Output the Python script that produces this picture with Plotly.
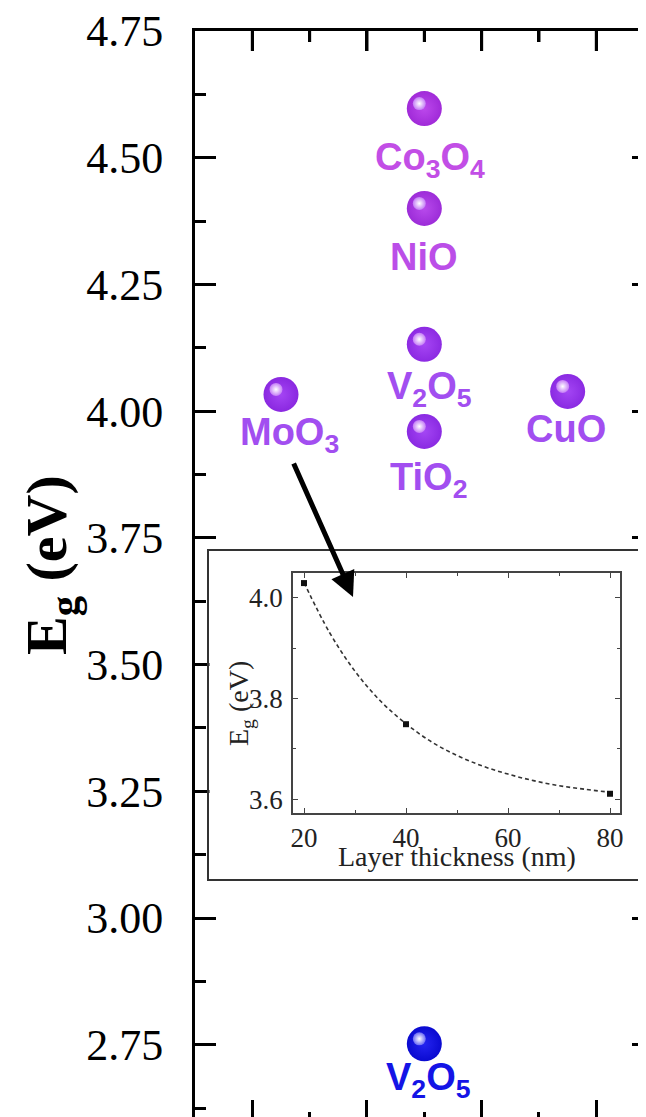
import plotly.graph_objects as go

# ---------------- data ----------------
oxide_labels = ["MoO<sub>3</sub>", "Co<sub>3</sub>O<sub>4</sub>", "NiO",
                "V<sub>2</sub>O<sub>5</sub>", "TiO<sub>2</sub>", "CuO"]
oxide_x = [1.5, 4.0, 4.0, 4.0, 4.0, 6.5]
oxide_eg = [4.033, 4.597, 4.400, 4.132, 3.960, 4.039]

blue_labels = ["V<sub>2</sub>O<sub>5</sub>"]
blue_x = [4.0]
blue_eg = [2.752]

thickness_nm = [20, 40, 80]
inset_eg = [4.029, 3.749, 3.611]

fit_thickness = [20, 25, 30, 35, 40, 45, 50, 55, 60, 65, 70, 75, 80]
fit_eg = [4.030, 3.931, 3.854, 3.795, 3.750, 3.714, 3.687, 3.666,
          3.650, 3.637, 3.627, 3.620, 3.614]

y_ticks = [2.75, 3.00, 3.25, 3.50, 3.75, 4.00, 4.25, 4.50, 4.75]
x_major = [1, 3, 5, 7]
x_minor = [2, 4, 6]

# ---------------- geometry helpers (reference pixel -> figure) ----------------
OFF = 8                      # page body margin
WIN_W, WIN_H = 646, 1117
W, H = WIN_W - OFF, WIN_H - OFF
L_REF, T_REF = 195, 31       # plot-area left / top in window pixels
L, T = L_REF - OFF, T_REF - OFF
XS, YS = 57.33, 506.9        # pixels per x unit / per eV
XR = [0.0, (WIN_W - L_REF) / XS]
YR = [4.75 - (WIN_H - T_REF) / YS, 4.75]
PH = WIN_H - T_REF           # plot-area height in pixels


def px(x):
    return (x - L_REF) / (WIN_W - L_REF)


def py(y):
    return (WIN_H - y) / (WIN_H - T_REF)


oxide_colors = ["#a444f4", "#bc48ec", "#b84aec", "#a646f4", "#a446f4", "#a446f4"]
oxide_edge = ["#8a28e0", "#a02ad8", "#9c2cd8", "#8c2ae2", "#8a2ae2", "#8a2ae2"]
label_colors = ["#a24ef0", "#c24ee6", "#bb4ee8", "#a24ef0", "#a24ef0", "#a24ef0"]

fig = go.Figure()

# empty traces so the twin frame axes (bottom / right) are drawn
fig.add_trace(go.Scatter(x=[None], y=[None], xaxis="x2", yaxis="y", mode="markers",
                         hoverinfo="skip", showlegend=False))
fig.add_trace(go.Scatter(x=[None], y=[None], xaxis="x", yaxis="y2", mode="markers",
                         hoverinfo="skip", showlegend=False))

# spheres
fig.add_trace(go.Scatter(
    x=oxide_x, y=oxide_eg, mode="markers", xaxis="x", yaxis="y",
    marker=dict(size=35, color=oxide_edge, line=dict(width=0),
                gradient=dict(type="radial", color=oxide_colors)),
    hoverinfo="skip", showlegend=False))
fig.add_trace(go.Scatter(
    x=blue_x, y=blue_eg, mode="markers", xaxis="x", yaxis="y",
    marker=dict(size=35, color="#0a0ad0", line=dict(width=0),
                gradient=dict(type="radial", color="#2424f0")),
    hoverinfo="skip", showlegend=False))
# highlights (drawn on pixel-shifted twin axes)
fig.add_trace(go.Scatter(
    x=oxide_x + blue_x, y=oxide_eg + blue_eg, mode="markers", xaxis="x3", yaxis="y3",
    marker=dict(size=13, color=["#c47cf6"] * 6 + ["#6a6af4"], line=dict(width=0),
                gradient=dict(type="radial", color="#ffffff")),
    hoverinfo="skip", showlegend=False))

# inset traces
fig.add_trace(go.Scatter(
    x=fit_thickness, y=fit_eg, mode="lines", xaxis="x4", yaxis="y4",
    line=dict(color="#333333", width=1.6, dash="4px,3px", shape="spline"),
    hoverinfo="skip", showlegend=False))
fig.add_trace(go.Scatter(
    x=thickness_nm, y=inset_eg, mode="markers", xaxis="x4", yaxis="y4",
    marker=dict(symbol="square", size=6, color="#111111"),
    hoverinfo="skip", showlegend=False))

annotations = []
# oxide labels
label_dy = [37, 47, 45, 41, 45, 34]
label_dx = [8, 6, 0, 5, 4, -2]
for lab, xv, yv, c, dy, dx in zip(oxide_labels, oxide_x, oxide_eg, label_colors, label_dy, label_dx):
    annotations.append(dict(x=xv, y=yv, xref="x", yref="y", text=lab, showarrow=False,
                            xshift=dx, yshift=-dy - 4, xanchor="center", yanchor="middle",
                            font=dict(family="Liberation Sans", size=38, color=c, weight="bold")))
for lab, xv, yv in zip(blue_labels, blue_x, blue_eg):
    annotations.append(dict(x=xv, y=yv, xref="x", yref="y", text=lab, showarrow=False,
                            xshift=4, yshift=-32 - 4, xanchor="center", yanchor="middle",
                            font=dict(family="Liberation Sans", size=38, color="#1414e6", weight="bold")))

# main y title
annotations.append(dict(x=px(50), y=py(565), xref="paper", yref="paper",
                        xanchor="center", yanchor="middle",
                        text="E<sub>g</sub> (eV)", textangle=-90, showarrow=False,
                        font=dict(family="Liberation Serif", size=58, color="black", weight="bold")))
# inset titles
annotations.append(dict(x=px(240), y=py(704), xref="paper", yref="paper",
                        xanchor="center", yanchor="middle",
                        text="E<sub>g</sub> (eV)", textangle=-90, showarrow=False,
                        font=dict(family="Liberation Serif", size=28, color="#222222")))
annotations.append(dict(x=px(457), y=py(856), xref="paper", yref="paper",
                        xanchor="center", yanchor="middle",
                        text="Layer thickness (nm)", showarrow=False,
                        font=dict(family="Liberation Serif", size=28, color="#222222")))
# arrow from MoO3 to inset
annotations.append(dict(x=(353 - L_REF) / XS, y=4.75 - (597 - T_REF) / YS, xref="x", yref="y",
                        ax=(293 - L_REF) / XS, ay=4.75 - (462 - T_REF) / YS, axref="x", ayref="y",
                        text="", showarrow=True, arrowhead=2, arrowsize=1.0, arrowwidth=5,
                        arrowcolor="black", standoff=0, startstandoff=0))

shapes = [
    # hide main ticks inside the inset box
    dict(type="rect", xref="paper", yref="paper", x0=px(209.5), x1=px(228), y0=py(879), y1=py(551),
         fillcolor="white", line=dict(width=0), layer="above"),
    dict(type="rect", xref="paper", yref="paper", x0=px(626), x1=px(641.8), y0=py(879), y1=py(551),
         fillcolor="white", line=dict(width=0), layer="above"),
    # inset frame
    dict(type="rect", xref="paper", yref="paper", x0=px(208), x1=px(643), y0=py(880), y1=py(550),
         fillcolor="rgba(0,0,0,0)", line=dict(width=2, color="#333333"), layer="above"),
]
# top-frame tick marks (placed on the x scale, pointing down from the top spine)
for tv, tl in [(v, 20) for v in x_major] + [(v, 11) for v in x_minor]:
    shapes.append(dict(type="line", xref="x", yref="y", x0=tv, x1=tv,
                       y0=YR[1], y1=YR[1] - tl / YS, line=dict(color="black", width=3),
                       layer="above"))

tick_font = dict(family="Liberation Serif", size=44, color="black")
inset_font = dict(family="Liberation Serif", size=27, color="#222222")

fig.update_layout(
    width=W, height=H,
    margin=dict(l=L, r=0, t=T, b=0, pad=0, autoexpand=False),
    paper_bgcolor="white", plot_bgcolor="white",
    showlegend=False,
    annotations=annotations, shapes=shapes,
    # top frame line + ticks (main x axis)
    xaxis=dict(type="linear", range=XR, domain=[0, 1], anchor="y", side="top",
               showgrid=False, zeroline=False, automargin=False,
               showline=True, linewidth=3, linecolor="black", showticklabels=False,
               ticks="inside", tickvals=x_major, ticklen=20, tickwidth=3, tickcolor="black",
               minor=dict(tickvals=x_minor, ticks="inside", ticklen=11, tickwidth=3, tickcolor="black")),
    # bottom ticks (frame line falls just below the window)
    xaxis2=dict(type="linear", range=XR, overlaying="x", side="bottom", anchor="y",
                showgrid=False, zeroline=False, automargin=False,
                showline=False, showticklabels=False,
                ticks="inside", tickvals=x_major, ticklen=17, tickwidth=3, tickcolor="black",
                minor=dict(tickvals=x_minor, ticks="inside", ticklen=5, tickwidth=3, tickcolor="black")),
    yaxis=dict(type="linear", range=YR, domain=[0, 1], anchor="x", showgrid=False, zeroline=False,
               automargin=False,
               showline=True, linewidth=3, linecolor="black",
               ticks="inside", tickvals=y_ticks, ticktext=[f"{v:.2f}" for v in y_ticks],
               ticklen=21, tickwidth=3, tickcolor="black",
               tickfont=tick_font, ticklabelstandoff=20, ticklabeloverflow="allow",
               minor=dict(dtick=0.125, tick0=2.75, ticks="inside", ticklen=11, tickwidth=3, tickcolor="black")),
    yaxis2=dict(type="linear", range=YR, overlaying="y", side="right", anchor="x",
                showgrid=False, zeroline=False, automargin=False,
                showline=False, showticklabels=False,
                ticks="inside", tickvals=y_ticks, ticklen=14, tickwidth=3, tickcolor="black",
                minor=dict(dtick=0.125, tick0=2.75, ticks="inside", ticklen=4, tickwidth=3, tickcolor="black")),
    xaxis3=dict(type="linear", range=[XR[0] + 5 / XS, XR[1] + 5 / XS], overlaying="x", anchor="y3",
                visible=False, automargin=False),
    yaxis3=dict(type="linear", range=[YR[0] - 5 / YS, YR[1] - 5 / YS], overlaying="y", anchor="x3",
                visible=False, automargin=False),
    xaxis4=dict(type="linear", domain=[px(293), px(620)], anchor="y4", automargin=False,
                range=[20 - 11 / 5.1, 80 + 10 / 5.1], showgrid=False, zeroline=False,
                showline=True, linewidth=1.5, linecolor="#444444", mirror="ticks",
                ticks="inside", tickvals=[20, 40, 60, 80], ticklen=5, tickwidth=1.2, tickcolor="#444444",
                tickfont=inset_font, ticklabelstandoff=0,
                minor=dict(tickvals=[30, 50, 70], ticks="inside", ticklen=3, tickwidth=1.2, tickcolor="#444444")),
    yaxis4=dict(type="linear", domain=[py(813), py(573)], anchor="x4", automargin=False,
                range=[3.6 - 13.7 / 504, 4.0 + 24.7 / 504], showgrid=False, zeroline=False,
                showline=True, linewidth=1.5, linecolor="#444444", mirror="ticks",
                ticks="inside", tickvals=[3.6, 3.8, 4.0], ticktext=["3.6", "3.8", "4.0"],
                ticklen=5, tickwidth=1.2, tickcolor="#444444",
                tickfont=inset_font, ticklabelstandoff=3,
                minor=dict(tickvals=[3.7, 3.9], ticks="inside", ticklen=3, tickwidth=1.2, tickcolor="#444444")),
)

fig.write_html("out.html", config={"displayModeBar": False})
